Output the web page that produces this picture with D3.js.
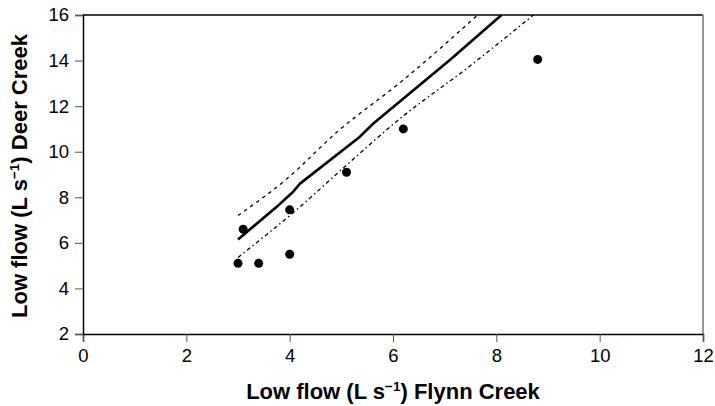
<!DOCTYPE html>
<html>
<head>
<meta charset="utf-8">
<script src="https://cdn.jsdelivr.net/npm/d3@7"></script>
<style>
  body { margin: 0; background: #fff; }
  svg text { font-family: "Liberation Sans", Arial, sans-serif; fill: #000; }
</style>
</head>
<body>
<div id="chart"></div>
<script>
// observed low flows, Flynn Creek (x) vs Deer Creek (y)
var flynnFlow = [3.0, 3.4, 4.0, 3.1, 4.0, 5.1, 6.2, 8.8];
var deerFlow  = [5.1, 5.1, 5.5, 6.6, 7.45, 9.1, 11.0, 14.05];

// fitted line and confidence band
var fitX   = [3.0, 3.75, 3.95, 4.05, 4.2, 5.36, 5.62, 7.1, 8.1];
var fitY   = [6.15, 7.58, 8.0, 8.2, 8.6, 10.66, 11.24, 14.03, 16.0];
var upperX = [3.0, 3.94, 4.91, 6.2, 7.64];
var upperY = [7.2, 8.8, 10.85, 13.15, 16.0];
var lowerX = [3.0, 4.2, 5.1, 6.14, 7.43, 8.72];
var lowerY = [5.36, 7.58, 9.41, 11.46, 13.66, 16.0];

var xTicks = [0, 2, 4, 6, 8, 10, 12];
var yTicks = [2, 4, 6, 8, 10, 12, 14, 16];

var W = 715, H = 406;
var margin = {top: 15, right: 12, bottom: 72, left: 83};
var width = W - margin.left - margin.right,
    height = H - margin.top - margin.bottom;

var svg = d3.select("#chart").append("svg")
    .attr("width", W)
    .attr("height", H);

var g = svg.append("g")
    .attr("transform", "translate(" + margin.left + "," + margin.top + ")");

var x = d3.scaleLinear().domain([0, 12]).range([0, width]);
var y = d3.scaleLinear().domain([2, 16]).range([height, 0]);

// clip so lines stop at the frame
g.append("clipPath").attr("id", "plotclip")
  .append("rect").attr("width", width).attr("height", height);

// frame: top and right
g.append("line")
  .attr("x1", 0).attr("x2", width).attr("y1", 0).attr("y2", 0)
  .style("stroke", "#000").style("stroke-width", 1.5);
g.append("line")
  .attr("x1", width).attr("x2", width).attr("y1", 0).attr("y2", height)
  .style("stroke", "#777").style("stroke-width", 1.5);

// axes
var xAxis = g.append("g")
  .attr("transform", "translate(0," + height + ")")
  .call(d3.axisBottom(x).tickValues(xTicks).tickSize(8).tickPadding(7).tickFormat(d3.format("d")));
var yAxis = g.append("g")
  .call(d3.axisLeft(y).tickValues(yTicks).tickSize(8).tickPadding(6).tickFormat(d3.format("d")));

[xAxis, yAxis].forEach(function(a) {
  a.select(".domain").style("stroke", "#000").style("stroke-width", 1.5);
  a.selectAll(".tick line").style("stroke", "#555").style("stroke-width", 1);
  a.selectAll(".tick text").style("font-size", "18.5px").attr("fill", "#000");
});

function pairs(xs, ys) {
  return xs.map(function(v, i) { return [v, ys[i]]; });
}

var line = d3.line()
  .x(function(d) { return x(d[0]); })
  .y(function(d) { return y(d[1]); });

// the confidence band is smooth
var band = d3.line()
  .x(function(d) { return x(d[0]); })
  .y(function(d) { return y(d[1]); })
  .curve(d3.curveMonotoneX);

var plot = g.append("g").attr("clip-path", "url(#plotclip)");

plot.append("path")
  .datum(pairs(upperX, upperY))
  .attr("d", band)
  .style("fill", "none").style("stroke", "#000")
  .style("stroke-width", 1.3).style("stroke-dasharray", "3.5,4");

plot.append("path")
  .datum(pairs(lowerX, lowerY))
  .attr("d", band)
  .style("fill", "none").style("stroke", "#000")
  .style("stroke-width", 1.3).style("stroke-dasharray", "4,3,1.5,3");

plot.append("path")
  .datum(pairs(fitX, fitY))
  .attr("d", line)
  .style("fill", "none").style("stroke", "#000")
  .style("stroke-width", 2.6).style("stroke-linejoin", "round");

g.selectAll(".dot")
  .data(pairs(flynnFlow, deerFlow))
  .enter().append("circle")
  .attr("class", "dot")
  .attr("cx", function(d) { return x(d[0]); })
  .attr("cy", function(d) { return y(d[1]); })
  .attr("r", 4.5)
  .style("fill", "#000");

// axis titles
var xt = svg.append("text")
  .attr("x", margin.left + width / 2)
  .attr("y", 399)
  .attr("text-anchor", "middle")
  .style("font-size", "22px").style("font-weight", "bold");
xt.append("tspan").text("Low flow (L s");
xt.append("tspan").attr("dy", -8).style("font-size", "13.5px").text("\u22121");
xt.append("tspan").attr("dy", 8).text(") Flynn Creek");

var yt = svg.append("text")
  .attr("transform", "translate(27,176) rotate(-90)")
  .attr("text-anchor", "middle")
  .style("font-size", "22px").style("font-weight", "bold");
yt.append("tspan").text("Low flow (L s");
yt.append("tspan").attr("dy", -8).style("font-size", "13.5px").text("\u22121");
yt.append("tspan").attr("dy", 8).text(") Deer Creek");
</script>
</body>
</html>
